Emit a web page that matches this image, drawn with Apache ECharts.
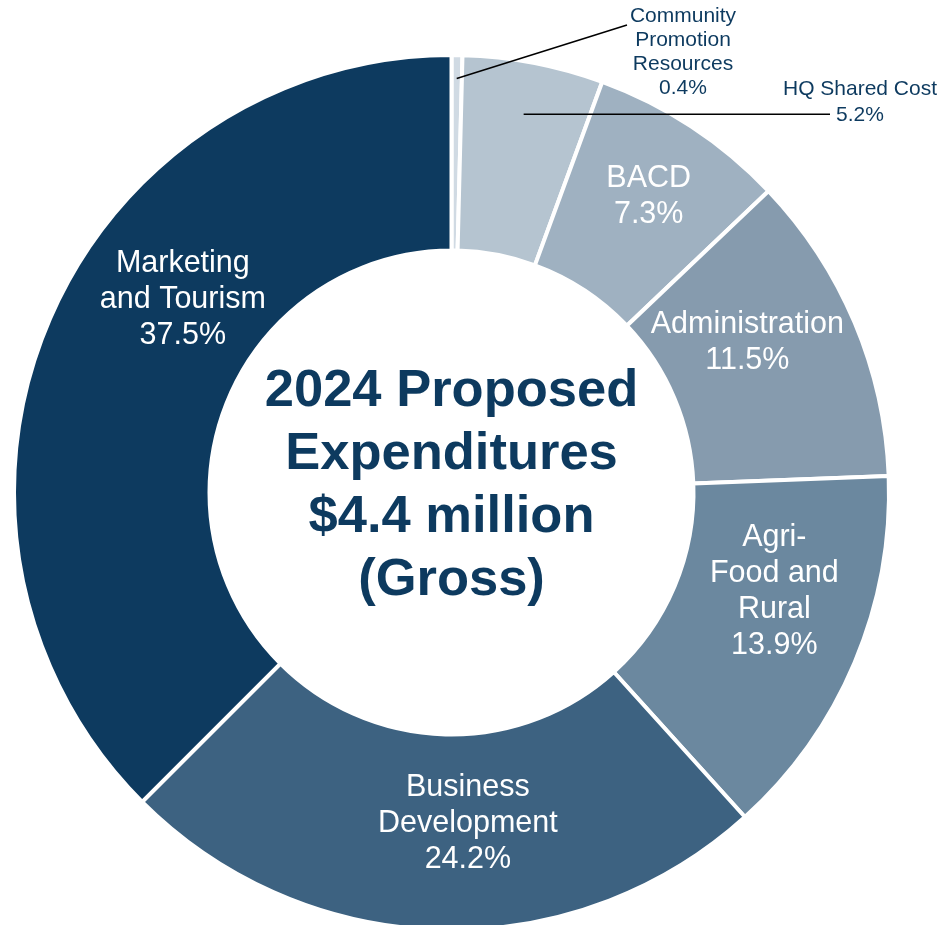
<!DOCTYPE html>
<html>
<head>
<meta charset="utf-8">
<script src="https://cdn.jsdelivr.net/npm/echarts@6/dist/echarts.min.js"></script>
<style>
  html, body { margin: 0; padding: 0; background: #fff; }
  #main { width: 941px; height: 925px; }
</style>
</head>
<body>
<div id="main"></div>
<script>
// slices, clockwise from 12 o'clock
var names = ['Community Promotion Resources', 'HQ Shared Cost', 'BACD', 'Administration',
  'Agri-Food and Rural', 'Business Development', 'Marketing and Tourism'];
var labelNames = ['Community\nPromotion\nResources', 'HQ Shared Cost', 'BACD', 'Administration',
  'Agri-\nFood and\nRural', 'Business\nDevelopment', 'Marketing\nand Tourism'];
var shares = [0.4, 5.2, 7.3, 11.5, 13.9, 24.2, 37.5];
var colors = ['#d0dae3', '#b5c4d0', '#9fb1c1', '#869bae', '#6b889f', '#3d6281', '#0d3a5f'];

var cx = 451.5, cy = 492.5;
var navy = '#0d3a5f';
var font = '"Liberation Sans", Arial, sans-serif';

// label tweaks: inside labels get a shift, outside ones a fixed spot + leader line
var insideShift = [null, null, [9, -9], [-20, -17], [7, -34], [25, -12], [48, -62]];
var outsideSpot = [
  { x: 683, y: 52, lineR: 414, end: [627, 25] },
  { x: 860, y: 102, lineR: 385, end: [830, null] }
];

function midAngle(i) {
  var cum = 0;
  for (var k = 0; k < i; k++) cum += shares[k];
  return (cum + shares[i] / 2) / 100 * Math.PI * 2;
}

function fmt(p) {
  return labelNames[p.dataIndex] + '\n' + p.value.toFixed(1) + '%';
}

// ring with the labels that sit inside the slices
var ringData = shares.map(function (v, i) {
  return {
    name: names[i], value: v,
    itemStyle: { color: colors[i] },
    label: { show: i >= 2 }
  };
});

// see-through copy on top, only for the two small slices and their leader lines
var calloutData = shares.map(function (v, i) {
  var item = { name: names[i], value: v, label: { show: i < 2 }, labelLine: { show: i < 2 } };
  if (i < 2) item.label.lineHeight = i === 0 ? 24 : 26;
  return item;
});

var chart = echarts.init(document.getElementById('main'));
chart.setOption({
  animation: false,
  graphic: [{
    type: 'text',
    x: cx,
    y: 486,
    style: {
      text: '2024 Proposed\nExpenditures\n$4.4 million\n(Gross)',
      fill: navy,
      font: 'bold 52.5px ' + font,
      lineHeight: 63,
      align: 'center',
      verticalAlign: 'middle'
    }
  }],
  series: [{
    type: 'pie',
    center: [cx, cy],
    radius: [242, 437.5],
    startAngle: 90,
    clockwise: true,
    avoidLabelOverlap: false,
    silent: true,
    itemStyle: { borderColor: '#fff', borderWidth: 4 },
    label: {
      position: 'inside',
      color: '#fff',
      fontFamily: font,
      fontSize: 30.5,
      lineHeight: 36,
      align: 'center',
      formatter: fmt
    },
    labelLine: { show: false },
    labelLayout: function (p) {
      var s = insideShift[p.dataIndex];
      return s ? { dx: s[0], dy: s[1] } : {};
    },
    data: ringData
  }, {
    type: 'pie',
    z: 5,
    center: [cx, cy],
    radius: [242, 437.5],
    startAngle: 90,
    clockwise: true,
    avoidLabelOverlap: false,
    silent: true,
    itemStyle: { color: 'rgba(0,0,0,0)', borderWidth: 0 },
    label: {
      position: 'outside',
      color: navy,
      fontFamily: font,
      fontSize: 21,
      formatter: fmt
    },
    labelLine: { length: 10, length2: 10, lineStyle: { color: '#000', width: 1.5 } },
    labelLayout: function (p) {
      var i = p.dataIndex;
      if (i >= 2) return {};
      var s = outsideSpot[i];
      var a = midAngle(i);
      var sx = cx + s.lineR * Math.sin(a);
      var sy = cy - s.lineR * Math.cos(a);
      var ex = s.end[0];
      var ey = s.end[1] == null ? sy : s.end[1];
      return {
        x: s.x, y: s.y, align: 'center', verticalAlign: 'middle',
        labelLinePoints: [[sx, sy], [ex, ey], [ex, ey]]
      };
    },
    data: calloutData
  }]
});
</script>
</body>
</html>
